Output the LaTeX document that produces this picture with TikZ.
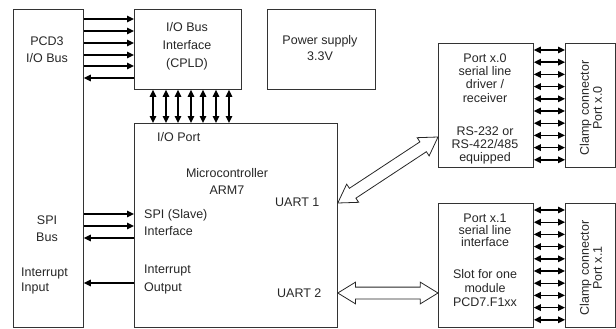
\documentclass[tikz,border=0pt]{standalone}
\usepackage{fontspec}
\setmainfont{Liberation Sans}
\usepackage{tikz}
\usetikzlibrary{arrows.meta,calc,shapes.arrows}
\tikzstyle{modul}=[draw=black!80, line width=0.8pt, anchor=north west,
  inner sep=0pt]
\tikzstyle{texto}=[text=black!85, align=center, inner sep=0pt,
  font=\fontsize{12.5}{15}\selectfont]
\tikzstyle{line}=[draw, line width=1.4pt, ->]
\tikzstyle{bline}=[draw, line width=1.4pt, <->]
\tikzstyle{fatarrow}=[draw=black!85, line width=0.8pt, double arrow,
  double arrow head extend=5pt, double arrow tip angle=63,
  inner xsep=0pt, inner ysep=5.5pt]
\newcommand{\fspace}[1]{\fontsize{12.5}{#1}\selectfont}

\begin{document}
\begin{tikzpicture}[x=1pt,y=-1pt,>={Triangle[length=7pt,width=6.5pt]}]
  \useasboundingbox (0,0) rectangle (616,329);

  % Draw diagram elements
  \node (bus) [modul, minimum width=70pt, minimum height=318pt] at (13,9) {};
  \node (iobi) [modul, minimum width=107pt, minimum height=80pt] at (134,9) {};
  \node (pwr) [modul, minimum width=108pt, minimum height=80pt] at (267,9) {};
  \node (mcu) [modul, minimum width=203pt, minimum height=204pt] at (134,123) {};
  \node (p0) [modul, minimum width=95pt, minimum height=124pt] at (438,43) {};
  \node (c0) [modul, minimum width=50pt, minimum height=124pt] at (565,43) {};
  \node (p1) [modul, minimum width=95pt, minimum height=124pt] at (438,203) {};
  \node (c1) [modul, minimum width=50pt, minimum height=124pt] at (565,203) {};

  % Texts
  \node (tbus) [texto, font=\fspace{17}] at (47,49.5) {PCD3\\I/O Bus};
  \node (tspi) [texto, font=\fspace{17}] at (47,228.5) {SPI\\Bus};
  \node (tint) [texto, align=left, anchor=west, font=\fspace{15}]
    at (21,280.5) {Interrupt\\Input};
  \node (tiobi) [texto, font=\fspace{18}] at (187,46) {I/O Bus\\Interface\\(CPLD)};
  \node (tpwr) [texto, font=\fspace{16}] at (320,48) {Power supply\\3.3V};
  \node (tport) [texto, anchor=west] at (157,137) {I/O Port};
  \node (tmcu) [texto, font=\fspace{17}] at (227,181.5) {Microcontroller\\ARM7};
  \node (tu1) [texto, anchor=west] at (275,202) {UART 1};
  \node (tu2) [texto, anchor=west] at (277,293) {UART 2};
  \node (tslave) [texto, align=left, anchor=west, font=\fspace{17}]
    at (144,222.5) {SPI (Slave)\\Interface};
  \node (tout) [texto, align=left, anchor=west, font=\fspace{18}]
    at (144,279) {Interrupt\\Output};
  \node (tp0a) [texto, font=\fspace{13.3}] at (485,78)
    {Port x.0\\serial line\\driver /\\receiver};
  \node (tp0b) [texto, font=\fspace{13}] at (485,145)
    {RS-232 or\\RS-422/485\\equipped};
  \node (tp1a) [texto, font=\fspace{12}] at (485,230.5)
    {Port x.1\\serial line\\interface};
  \node (tp1b) [texto, font=\fspace{14}] at (485,288)
    {Slot for one\\module\\PCD7.F1xx};
  \node (tc0) [texto, rotate=90, font=\fspace{13}] at (591,108)
    {Clamp connector\\Port x.0};
  \node (tc1) [texto, rotate=90, font=\fspace{13}] at (591,268)
    {Clamp connector\\Port x.1};

  % Draw arrows between elements
  \foreach \y in {19,31,43,55,66}
    \path [line] (bus.east |- 0,\y) -- (iobi.west |- 0,\y);
  \path [line] (iobi.west |- 0,78) -- (bus.east |- 0,78);
  \foreach \x in {153,166,178,191,203,216,229}
    \path [bline] (iobi.south -| \x,0) -- (mcu.north -| \x,0);
  \foreach \y in {214,226}
    \path [line] (bus.east |- 0,\y) -- (mcu.west |- 0,\y);
  \path [line] (mcu.west |- 0,238) -- (bus.east |- 0,238);
  \path [line] (mcu.west |- 0,283) -- (bus.east |- 0,283);
  \foreach \i in {0,...,9} {
    \path [bline] ($(p0.north east)+(0,7+12.2*\i)$) -- ($(c0.north west)+(0,7+12.2*\i)$);
    \path [bline] ($(p1.north east)+(0,7+12.2*\i)$) -- ($(c1.north west)+(0,7+12.2*\i)$);
  }

  % UART links
  \coordinate (u1) at (mcu.east |- 0,203);
  \coordinate (r0) at (p0.west |- 0,137);
  \coordinate (u2) at (mcu.east |- 0,293);
  \coordinate (r1) at (p1.west |- 0,293);
  \path let \p1=($(r0)-(u1)$), \n1={atan2(\y1,\x1)}, \n2={veclen(\x1,\y1)} in
    node (f1) [fatarrow, rotate=\n1, minimum height=\n2] at ($(u1)!0.5!(r0)$) {};
  \path let \p1=($(r1)-(u2)$), \n1={atan2(\y1,\x1)}, \n2={veclen(\x1,\y1)} in
    node (f2) [fatarrow, rotate=\n1, minimum height=\n2] at ($(u2)!0.5!(r1)$) {};
\end{tikzpicture}
\end{document}
